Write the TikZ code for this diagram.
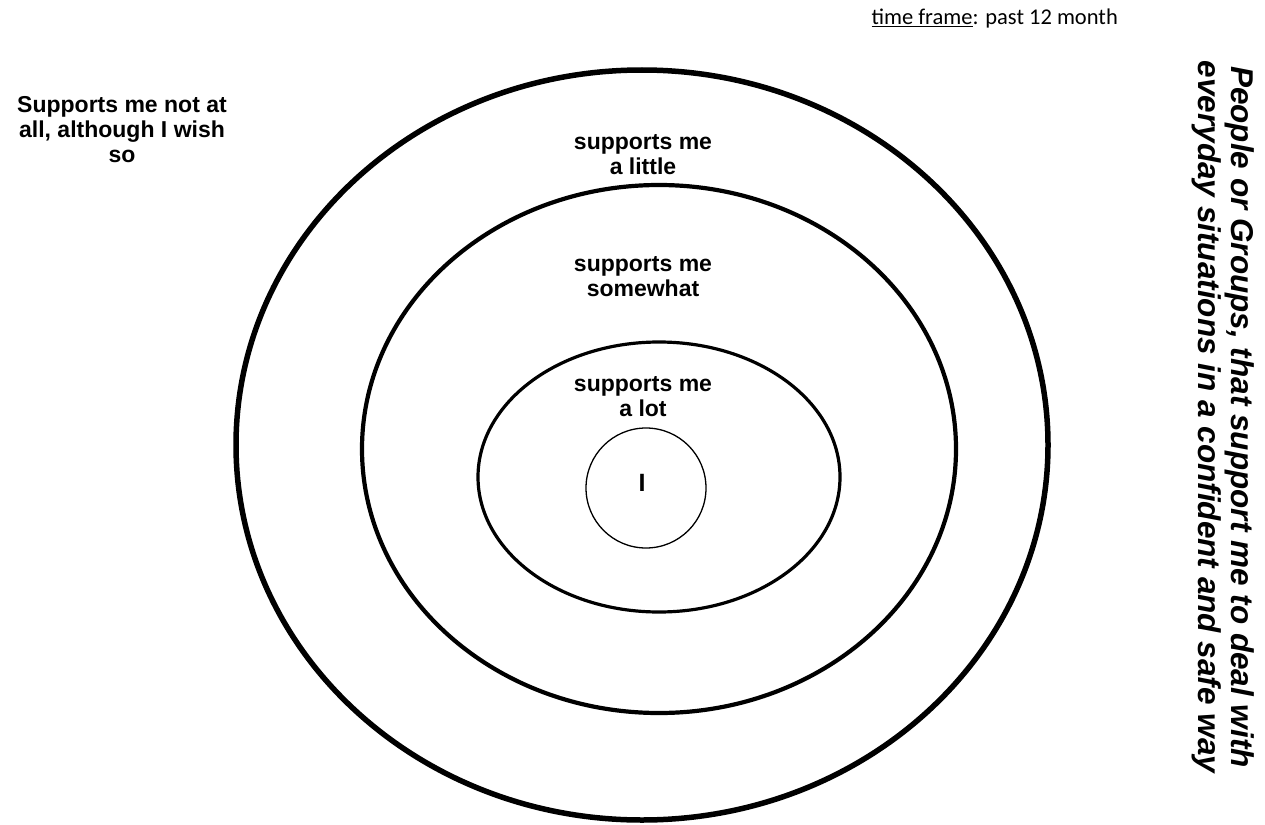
\documentclass[tikz,border=0pt]{standalone}
\usepackage{fontspec}
\setmainfont{Liberation Sans}
\newfontfamily\calib{Carlito}
\begin{document}
\begin{tikzpicture}[x=1pt,y=-1pt,
  ring/.style={draw=black},
  lbl/.style={align=center,inner sep=0pt,font=\bfseries\fontsize{23}{25}\selectfont}]
\useasboundingbox[fill=white] (0,0) rectangle (1265,824);
% rings
\draw[ring,line width=5.5] (642,445) ellipse [x radius=406,y radius=375];
\draw[ring,line width=4.2] (659,449) ellipse [x radius=297,y radius=264];
\draw[ring,line width=3.2] (659,477) ellipse [x radius=181,y radius=135];
\draw[ring,line width=1.3] (646,488) ellipse [x radius=60,y radius=60];
% labels
\node[lbl] (notatall) at (122,130) {Supports me not at\\all, although I wish\\so};
\node[lbl] (little) at (643,155) {supports me\\a little};
\node[lbl] (somewhat) at (643,277) {supports me\\somewhat};
\node[lbl] (alot) at (643,397) {supports me\\a lot};
\node[lbl,font=\bfseries\fontsize{25}{27}\selectfont] (me) at (642,483) {I};
\node[inner sep=0pt,anchor=base east,font=\calib\fontsize{22.5}{24}\selectfont] (frame) at (1118,25) {\underline{time frame}: past 12 month};
\node[rotate=-90,align=center,inner sep=0pt,font=\bfseries\itshape\fontsize{31.5}{33.5}\selectfont] (title) at (1223,417)
  {People or Groups, that support me to deal with\\everyday situations in a confident and safe way};
\end{tikzpicture}
\end{document}
